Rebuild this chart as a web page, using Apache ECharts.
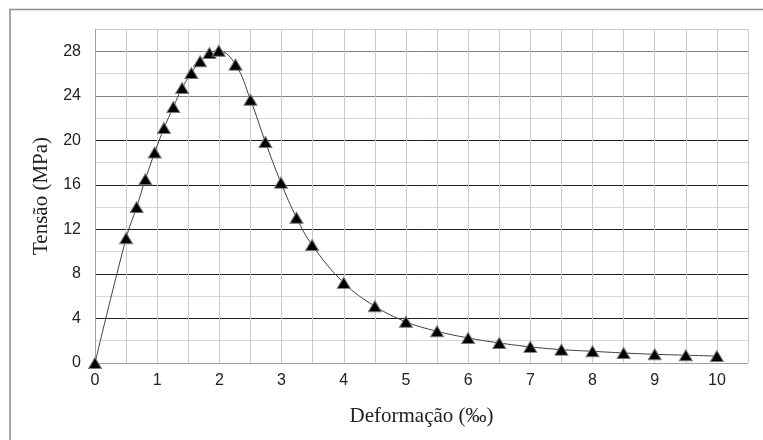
<!DOCTYPE html>
<html>
<head>
<meta charset="utf-8">
<script src="https://cdn.jsdelivr.net/npm/echarts@6/dist/echarts.min.js"></script>
<style>html,body{margin:0;padding:0;background:#fff;}#c{width:763px;height:440px;}</style>
</head>
<body>
<div id="c"></div>
<script>
var strain = [0, 0.5, 0.67, 0.81, 0.96, 1.11, 1.26, 1.4, 1.55, 1.69, 1.84, 1.99, 2.26, 2.5, 2.74, 2.99, 3.24, 3.49, 4, 4.5, 5, 5.5, 6, 6.5, 7, 7.5, 8, 8.5, 9, 9.5, 10];
var stress = [0, 11.2, 14.0, 16.5, 18.9, 21.1, 23.0, 24.7, 26.05, 27.1, 27.85, 28.05, 26.8, 23.65, 19.85, 16.2, 13.05, 10.6, 7.2, 5.1, 3.7, 2.85, 2.25, 1.8, 1.45, 1.2, 1.05, 0.9, 0.78, 0.7, 0.62];
var xTitle = 'Deformação (‰)';
var yTitle = 'Tensão (MPa)';

var points = strain.map(function (x, i) { return [x, stress[i]]; });

var L = '#d9d9d9', D = '#1f1f1f', G = '#808080';
var yGridColors = ['#a0a0a0', L, D, L, D, L, D, L, D, L, D, L, G, L, G, '#c8c8c8'];
var xGridColors = ['#a0a0a0'];
for (var k = 1; k <= 21; k++) xGridColors.push('#cacaca');

var chart = echarts.init(document.getElementById('c'), null, {renderer: 'canvas'});
chart.setOption({
  animation: false,
  backgroundColor: '#ffffff',
  graphic: [{
    type: 'rect',
    shape: {x: 10, y: 9.5, width: 800, height: 480},
    style: {fill: 'none', stroke: '#8c8c8c', lineWidth: 1.5},
    silent: true
  }],
  grid: {left: 95, right: 15, top: 29, bottom: 77},
  xAxis: {
    type: 'value', min: 0, max: 10.5, interval: 0.5,
    name: xTitle, nameLocation: 'middle', nameGap: 43,
    nameTextStyle: {fontFamily: 'Liberation Serif', fontSize: 21, color: '#222'},
    axisLine: {show: false}, axisTick: {show: false},
    axisLabel: {
      margin: 10, fontFamily: 'Liberation Sans', fontSize: 16, color: '#222',
      formatter: function (v) { return Math.abs(v - Math.round(v)) < 1e-6 ? String(Math.round(v)) : ''; }
    },
    splitLine: {show: true, lineStyle: {color: xGridColors, width: 1}}
  },
  yAxis: {
    type: 'value', min: 0, max: 30, interval: 2,
    name: yTitle, nameLocation: 'middle', nameGap: 40,
    nameTextStyle: {fontFamily: 'Liberation Serif', fontSize: 21, color: '#222'},
    axisLine: {show: false}, axisTick: {show: false},
    axisLabel: {
      margin: 14, fontFamily: 'Liberation Sans', fontSize: 16, color: '#222',
      formatter: function (v) { return (v % 4 === 0 && v < 30) ? String(v) : ''; }
    },
    splitLine: {show: true, lineStyle: {color: yGridColors, width: 1}}
  },
  series: [{
    type: 'line',
    data: points,
    smooth: 0.4,
    symbol: 'triangle',
    symbolSize: [13, 11],
    showAllSymbol: true,
    lineStyle: {color: '#404040', width: 1},
    itemStyle: {color: '#000000', borderColor: '#7a7a7a', borderWidth: 1}
  }]
});
</script>
</body>
</html>
